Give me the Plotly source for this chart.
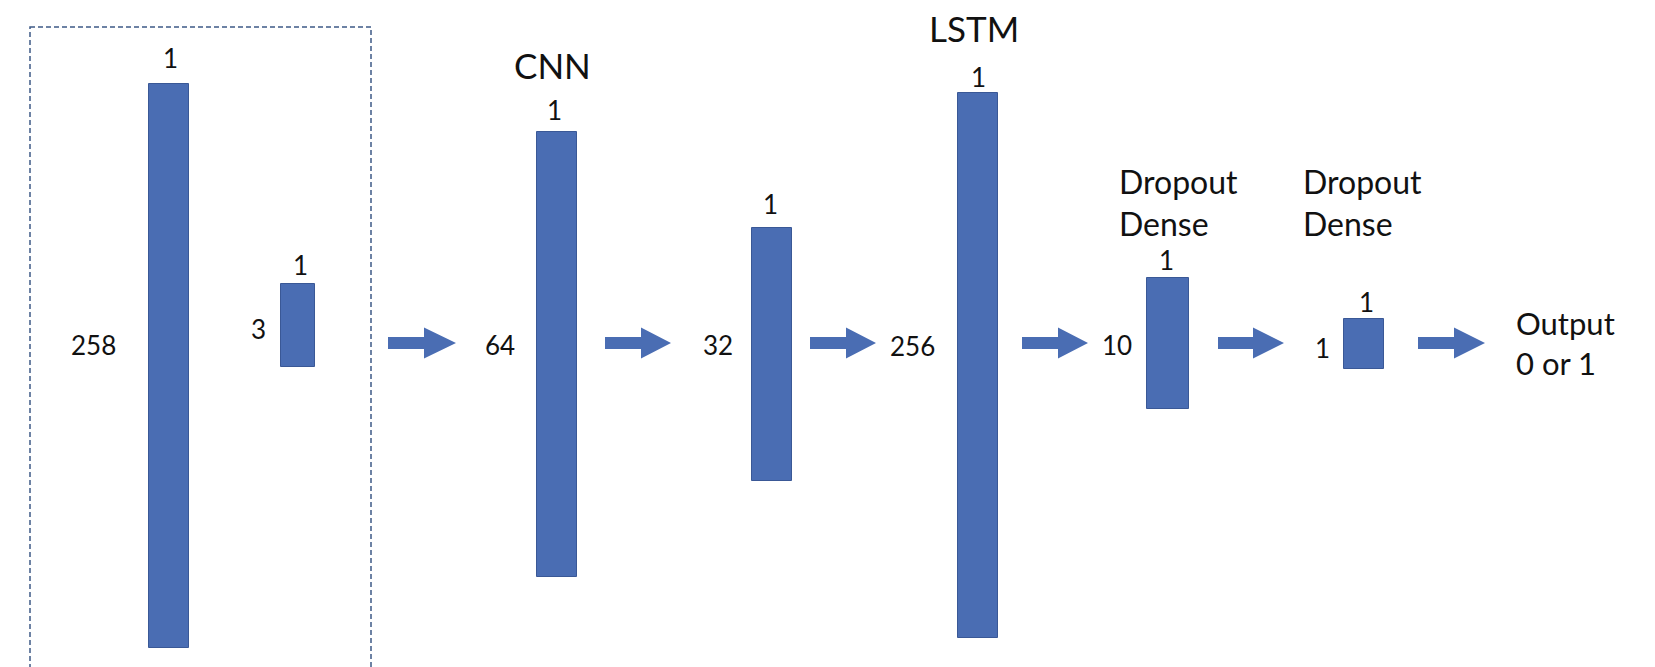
import plotly.graph_objects as go

# ---- data ----
side_labels = ["258", "3", "64", "32", "256", "10", "1"]
top_labels = ["1", "1", "1", "1", "1", "1", "1"]
layer_titles = ["", "", "CNN", "", "LSTM", "Dropout<br>Dense", "Dropout<br>Dense"]
output_label = "Output<br>0 or 1"

# ---- layout geometry (pixels, y downward) ----
W, H = 1655, 667
bar_x0 = [149, 281, 537, 752, 958, 1147, 1344]
bar_x1 = [189, 315, 577, 792, 998, 1189, 1384]
bar_y0 = [84, 284, 132, 228, 93, 278, 319]
bar_y1 = [648, 367, 577, 481, 638, 409, 369]
side_pos = [(93, 345), (258, 329), (500, 345), (718, 345), (912, 346), (1117, 345), (1322, 348)]
top_pos = [(170, 58), (300, 265), (554, 110), (770, 204), (978, 77), (1166, 260), (1366, 302)]
title_pos = [None, None, (552, 65, "center"), None, (974, 28, "center"),
             (1117, 202, "left"), (1301, 202, "left")]
arrows = [(388, 424, 456), (605, 641, 671), (810, 846, 876),
          (1022, 1058, 1088), (1218, 1253, 1284), (1418, 1454, 1485)]
arrow_y, shaft_h, head_h = 343, 6, 15.5

BAR = "#4A6DB3"
EDGE = "#3A5896"
TXT = "#111111"
FONT = "Lato"

fig = go.Figure()

# bars
fig.add_trace(go.Bar(
    x=[(a + b) / 2 for a, b in zip(bar_x0, bar_x1)],
    width=[b - a for a, b in zip(bar_x0, bar_x1)],
    base=bar_y0,
    y=[b - a for a, b in zip(bar_y0, bar_y1)],
    marker=dict(color=BAR, line=dict(color=EDGE, width=1)),
    hoverinfo="skip", showlegend=False,
))

# arrows
for xs, xh, xe in arrows:
    px = [xs, xh, xh, xe, xh, xh, xs, xs]
    py = [arrow_y - shaft_h, arrow_y - shaft_h, arrow_y - head_h, arrow_y,
          arrow_y + head_h, arrow_y + shaft_h, arrow_y + shaft_h, arrow_y - shaft_h]
    fig.add_trace(go.Scatter(x=px, y=py, mode="lines", fill="toself",
                             fillcolor=BAR, line=dict(width=0, color=BAR),
                             hoverinfo="skip", showlegend=False))

ann = []
for lab, (x, y) in zip(side_labels, side_pos):
    ann.append(dict(x=x, y=y, text=lab, showarrow=False, xanchor="center", yanchor="middle",
                    font=dict(family=FONT, size=26, color=TXT)))
for lab, (x, y) in zip(top_labels, top_pos):
    ann.append(dict(x=x, y=y, text=lab, showarrow=False, xanchor="center", yanchor="middle",
                    font=dict(family=FONT, size=26, color=TXT)))
for lab, p in zip(layer_titles, title_pos):
    if not lab:
        continue
    x, y, anc = p
    big = "<br>" not in lab
    ann.append(dict(x=x, y=y, text=lab, showarrow=False, xanchor=anc, yanchor="middle",
                    align="left",
                    font=dict(family=FONT, size=35 if big else 32, color=TXT)))
ann.append(dict(x=1514, y=343, text=output_label, showarrow=False, xanchor="left",
                yanchor="middle", align="left",
                font=dict(family=FONT, size=31, color=TXT)))

# dashed input box
shapes = [dict(type="rect", x0=30, x1=371, y0=27, y1=H + 20,
               line=dict(color="#3E5A86", width=1.5, dash="5px,3px"),
               fillcolor="rgba(0,0,0,0)", layer="below")]

fig.update_layout(
    width=W, height=H,
    margin=dict(l=0, r=0, t=0, b=0),
    paper_bgcolor="white", plot_bgcolor="white",
    xaxis=dict(range=[0, W], visible=False, fixedrange=True),
    yaxis=dict(range=[H, 0], visible=False, fixedrange=True),
    annotations=ann, shapes=shapes,
    showlegend=False, bargap=0,
)

fig.write_html("out.html", config={"displayModeBar": False},
               post_script="document.body.style.margin='0';document.body.style.overflow='hidden';")
